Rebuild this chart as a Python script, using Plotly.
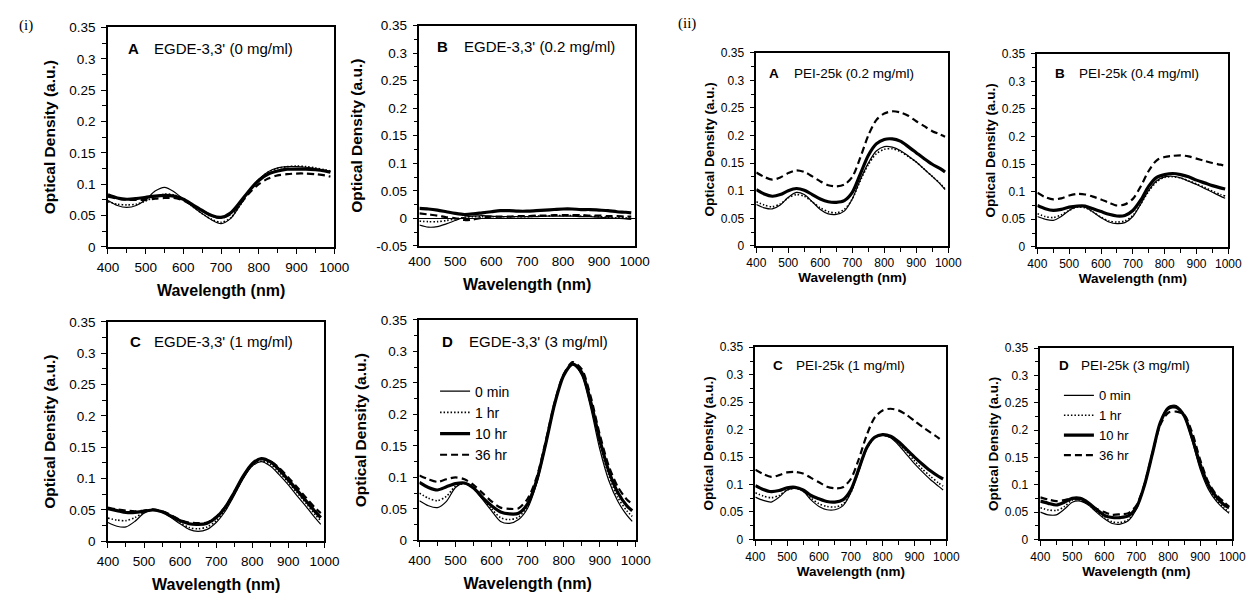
import plotly.graph_objects as go

W, H = 1260, 601

wavelength = [400, 425, 450, 475, 500, 525, 550, 575, 600, 625, 650, 675, 700,
              725, 750, 775, 800, 825, 850, 875, 900, 925, 950, 975, 990]

series_names = ["0 min", "1 hr", "10 hr", "36 hr"]

# ---- (i) EGDE-3,3' ----
egde_0_0min = [.074, .066, .063, .066, .075, .089, .095, .088, .076, .064, .053, .043, .037, .045, .066, .090, .108, .120, .126, .128, .128, .127, .125, .122, .120]
egde_0_1hr = [.072, .068, .067, .068, .073, .080, .084, .083, .075, .064, .053, .044, .039, .046, .066, .089, .107, .119, .125, .128, .129, .128, .126, .123, .121]
egde_0_10hr = [.083, .078, .076, .077, .079, .081, .082, .081, .076, .067, .058, .050, .047, .054, .071, .090, .106, .116, .121, .124, .124, .124, .123, .121, .119]
egde_0_36hr = [.080, .077, .075, .075, .075, .077, .078, .078, .074, .066, .058, .050, .046, .052, .068, .086, .100, .109, .114, .116, .117, .117, .116, .114, .112]

egde_02_0min = [-.012, -.016, -.015, -.010, -.004, .002, .004, .005, .004, .003, .003, .003, .003, .003, .004, .004, .004, .004, .003, .003, .002, .001, .000, -.001, -.002]
egde_02_1hr = [-.005, -.006, -.006, -.004, -.001, .002, .003, .003, .003, .003, .003, .003, .003, .004, .004, .005, .005, .005, .004, .004, .003, .002, .001, .001, .000]
egde_02_10hr = [.018, .017, .015, .012, .009, .007, .008, .010, .012, .014, .014, .013, .013, .014, .015, .016, .017, .017, .016, .016, .015, .014, .012, .011, .010]
egde_02_36hr = [.009, .007, .005, .002, .000, -.003, -.002, .001, .003, .003, .003, .004, .004, .005, .005, .006, .006, .006, .006, .005, .005, .004, .004, .003, .003]

egde_1_0min = [.030, .024, .023, .032, .045, .050, .047, .038, .028, .019, .016, .019, .030, .048, .073, .100, .120, .127, .120, .106, .090, .072, .055, .037, .027]
egde_1_1hr = [.037, .034, .033, .038, .046, .050, .047, .039, .030, .022, .020, .023, .033, .050, .075, .101, .121, .128, .123, .110, .094, .077, .060, .042, .033]
egde_1_10hr = [.052, .049, .046, .046, .048, .050, .047, .040, .033, .028, .027, .029, .038, .054, .078, .104, .124, .132, .127, .114, .098, .081, .064, .047, .038]
egde_1_36hr = [.054, .051, .049, .048, .049, .051, .048, .042, .034, .030, .029, .030, .039, .055, .078, .104, .123, .131, .128, .117, .102, .086, .069, .053, .045]

egde_3_0min = [.063, .055, .052, .062, .084, .091, .083, .065, .047, .030, .027, .033, .051, .090, .150, .215, .262, .280, .262, .210, .145, .095, .062, .040, .030]
egde_3_1hr = [.075, .067, .063, .070, .086, .090, .084, .067, .050, .036, .033, .037, .055, .093, .152, .216, .262, .279, .265, .216, .152, .103, .068, .047, .038]
egde_3_10hr = [.092, .084, .080, .085, .090, .091, .083, .068, .055, .045, .042, .043, .058, .095, .153, .217, .262, .280, .267, .220, .160, .110, .076, .055, .047]
egde_3_36hr = [.103, .097, .093, .097, .100, .097, .088, .075, .062, .052, .050, .051, .066, .100, .157, .219, .264, .283, .272, .228, .168, .118, .085, .065, .058]

# ---- (ii) PEI-25k ----
pei_02_0min = [.075, .069, .067, .074, .088, .097, .093, .080, .066, .058, .057, .063, .085, .120, .150, .172, .180, .179, .173, .163, .152, .139, .126, .112, .102]
pei_02_1hr = [.080, .074, .071, .076, .087, .093, .090, .080, .069, .062, .060, .066, .085, .118, .147, .167, .175, .176, .171, .162, .152, .139, .126, .113, .103]
pei_02_10hr = [.102, .094, .090, .093, .100, .104, .101, .093, .085, .080, .079, .082, .097, .130, .164, .185, .193, .194, .190, .180, .169, .158, .148, .140, .134]
pei_02_36hr = [.133, .125, .120, .124, .132, .137, .134, .126, .117, .110, .108, .111, .125, .160, .200, .228, .240, .244, .242, .236, .226, .217, .208, .202, .198]

pei_04_0min = [.055, .050, .048, .055, .066, .074, .072, .063, .053, .045, .042, .044, .055, .078, .103, .120, .127, .128, .125, .119, .113, .106, .099, .092, .088]
pei_04_1hr = [.060, .055, .053, .058, .066, .072, .071, .063, .054, .047, .045, .047, .057, .078, .101, .118, .126, .127, .125, .120, .114, .108, .101, .095, .092]
pei_04_10hr = [.075, .069, .066, .068, .072, .074, .074, .069, .064, .059, .056, .057, .066, .085, .110, .126, .131, .133, .131, .127, .121, .116, .111, .107, .105]
pei_04_36hr = [.098, .090, .086, .088, .093, .096, .095, .091, .086, .080, .075, .077, .087, .110, .138, .157, .163, .165, .166, .164, .160, .156, .152, .149, .147]

pei_1_0min = [.077, .071, .068, .077, .090, .093, .088, .072, .060, .054, .054, .061, .085, .125, .165, .185, .190, .185, .172, .155, .138, .123, .109, .097, .090]
pei_1_1hr = [.085, .079, .076, .080, .090, .093, .088, .075, .065, .060, .059, .064, .085, .125, .165, .185, .190, .186, .175, .160, .143, .128, .115, .103, .097]
pei_1_10hr = [.098, .091, .087, .089, .094, .095, .090, .080, .074, .069, .068, .072, .090, .128, .167, .186, .191, .188, .178, .164, .150, .137, .125, .115, .110]
pei_1_36hr = [.127, .119, .114, .117, .122, .123, .120, .112, .104, .096, .093, .095, .110, .146, .190, .222, .235, .238, .235, .227, .216, .205, .195, .185, .178]

pei_3_0min = [.050, .045, .045, .055, .068, .070, .063, .050, .038, .029, .028, .034, .055, .097, .157, .215, .243, .245, .225, .180, .128, .092, .070, .055, .048]
pei_3_1hr = [.058, .054, .053, .060, .072, .072, .064, .052, .040, .032, .031, .036, .057, .097, .155, .213, .240, .243, .225, .182, .132, .096, .073, .057, .050]
pei_3_10hr = [.070, .066, .063, .068, .075, .075, .067, .055, .044, .040, .040, .043, .058, .098, .156, .214, .240, .242, .226, .185, .137, .100, .078, .063, .058]
pei_3_36hr = [.077, .073, .070, .072, .075, .073, .066, .056, .050, .045, .046, .048, .062, .100, .157, .210, .232, .234, .228, .195, .145, .105, .082, .068, .060]

panel_letters = ["A", "B", "C", "D", "A", "B", "C", "D"]
panel_titles = ["EGDE-3,3' (0 mg/ml)", "EGDE-3,3' (0.2 mg/ml)", "EGDE-3,3' (1 mg/ml)", "EGDE-3,3' (3 mg/ml)",
                "PEI-25k (0.2 mg/ml)", "PEI-25k (0.4 mg/ml)", "PEI-25k (1 mg/ml)", "PEI-25k (3 mg/ml)"]
panel_data = [
    [egde_0_0min, egde_0_1hr, egde_0_10hr, egde_0_36hr],
    [egde_02_0min, egde_02_1hr, egde_02_10hr, egde_02_36hr],
    [egde_1_0min, egde_1_1hr, egde_1_10hr, egde_1_36hr],
    [egde_3_0min, egde_3_1hr, egde_3_10hr, egde_3_36hr],
    [pei_02_0min, pei_02_1hr, pei_02_10hr, pei_02_36hr],
    [pei_04_0min, pei_04_1hr, pei_04_10hr, pei_04_36hr],
    [pei_1_0min, pei_1_1hr, pei_1_10hr, pei_1_36hr],
    [pei_3_0min, pei_3_1hr, pei_3_10hr, pei_3_36hr],
]
y_tick_vals = [0, 0.05, 0.1, 0.15, 0.2, 0.25, 0.3, 0.35]
y_tick_text = ["0", "0.05", "0.1", "0.15", "0.2", "0.25", "0.3", "0.35"]
y_tick_vals_b = [-0.05] + y_tick_vals
y_tick_text_b = ["-0.05"] + y_tick_text
x_tick_vals = [400, 500, 600, 700, 800, 900, 1000]

# ---- layout geometry (pixels) ----
boxes = [  # x0, x1, y0(top), y1(bottom)
    (99, 330, 21, 246), (417, 637, 19, 245), (99, 320, 323, 548), (417, 638, 321, 547),
    (761, 957, 47, 245), (1048, 1243, 48, 246), (760, 955, 349, 546), (1051, 1247, 350, 546),
]
letter_pos = [(117, 43, 144), (433, 40, 461), (119, 343, 144), (438, 343, 466),
              (772, 68, 797), (1064, 68, 1088), (776, 368, 799), (1068, 368, 1090)]

styles = [dict(width=1.2, dash="solid"), dict(width=1.6, dash="1.5px,2px"),
          dict(width=3.2, dash="solid"), dict(width=2.2, dash="7px,4px")]

FONT = "Liberation Sans, Arial, sans-serif"
fig = go.Figure()
layout = dict(width=W, height=H, margin=dict(l=0, r=0, t=0, b=0),
              paper_bgcolor="white", plot_bgcolor="white",
              font=dict(family=FONT, color="black"), annotations=[])

for i in range(8):
    big = i < 4
    tick_sz = 13.5 if big else 12
    title_sz = 15.5 if big else 13.5
    ann_sz = 15 if big else 13.5
    xa = "x" if i == 0 else f"x{i+1}"
    ya = "y" if i == 0 else f"y{i+1}"
    xkey = "xaxis" if i == 0 else f"xaxis{i+1}"
    ykey = "yaxis" if i == 0 else f"yaxis{i+1}"
    leg = None
    if i == 3:
        leg = "legend"
    elif i == 7:
        leg = "legend2"
    for s in range(4):
        tr = dict(x=wavelength, y=panel_data[i][s], mode="lines", name=series_names[s],
                  xaxis=xa, yaxis=ya,
                  line=dict(color="black", shape="spline", smoothing=0.8, **styles[s]),
                  showlegend=leg is not None, hoverinfo="skip")
        if leg:
            tr["legend"] = leg
        fig.add_trace(go.Scatter(**tr))
    x0, x1, y0, y1 = boxes[i]
    is_b = i == 1
    layout[xkey] = dict(domain=[x0 / W, x1 / W], anchor=ya, range=[400, 1000],
                        tickvals=x_tick_vals, ticks="" if is_b else "outside", ticklen=5,
                        tickwidth=1, tickcolor="black",
                        minor=dict(dtick=50, tick0=400, ticks="" if is_b else "outside", ticklen=4, tickcolor="black"),
                        showline=True, linecolor="black", linewidth=1.5, mirror=True,
                        showgrid=False, zeroline=False,
                        tickfont=dict(size=tick_sz, family=FONT),
                        ticklabelstandoff=(2 if big else 0),
                        title=dict(text="<b>Wavelength (nm)</b>", font=dict(size=16 if big else title_sz),
                                   standoff=11 if big else 3))
    layout[ykey] = dict(domain=[1 - y1 / H, 1 - y0 / H], anchor=xa,
                        range=[-0.05, 0.35] if is_b else [0, 0.35],
                        tickvals=y_tick_vals_b if is_b else y_tick_vals,
                        ticktext=y_tick_text_b if is_b else y_tick_text,
                        ticks="outside", ticklen=5, tickwidth=1, tickcolor="black",
                        minor=dict(dtick=0.025, tick0=0, ticks="outside", ticklen=4, tickcolor="black"),
                        showline=True, linecolor="black", linewidth=1.5, mirror=True,
                        showgrid=False, zeroline=is_b, zerolinecolor="black", zerolinewidth=1.2,
                        tickfont=dict(size=tick_sz, family=FONT),
                        ticklabelstandoff=3,
                        title=dict(text="<b>Optical Density (a.u.)</b>", font=dict(size=title_sz),
                                   standoff=10 if big else 3))
    lx, ly, tx = letter_pos[i]
    layout["annotations"].append(dict(text=f"<b>{panel_letters[i]}</b>", x=lx / W, y=1 - ly / H,
                                      xref="paper", yref="paper", xanchor="left", yanchor="middle",
                                      showarrow=False, font=dict(size=ann_sz, family=FONT)))
    layout["annotations"].append(dict(text=panel_titles[i], x=tx / W, y=1 - ly / H,
                                      xref="paper", yref="paper", xanchor="left", yanchor="middle",
                                      showarrow=False, font=dict(size=ann_sz, family=FONT)))

layout["annotations"].append(dict(text="(i)", x=6 / W, y=1 - 19 / H, xref="paper", yref="paper",
                                  xanchor="left", yanchor="middle", showarrow=False,
                                  font=dict(size=15, family="Liberation Serif, Times New Roman, serif")))
layout["annotations"].append(dict(text="(ii)", x=679 / W, y=1 - 17 / H, xref="paper", yref="paper",
                                  xanchor="left", yanchor="middle", showarrow=False,
                                  font=dict(size=15, family="Liberation Serif, Times New Roman, serif")))

layout["legend"] = dict(x=433 / W, y=1 - 378 / H, xanchor="left", yanchor="top",
                        bgcolor="rgba(0,0,0,0)", borderwidth=0, tracegroupgap=0,
                        font=dict(size=14, family=FONT))
layout["legend2"] = dict(x=1070 / W, y=1 - 383 / H, xanchor="left", yanchor="top",
                         bgcolor="rgba(0,0,0,0)", borderwidth=0, tracegroupgap=0,
                         font=dict(size=13, family=FONT))

fig.update_layout(**layout)
fig.write_html("out.html")
